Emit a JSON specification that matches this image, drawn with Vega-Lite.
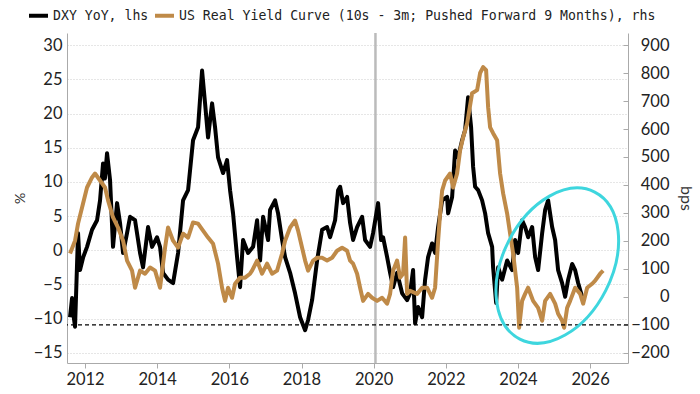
{
  "$schema": "https://vega.github.io/schema/vega-lite/v6.json",
  "autosize": {"type": "none"},
  "width": 561,
  "height": 330,
  "padding": {"left": 67, "top": 33, "right": 72, "bottom": 31},
  "background": "white",
  "config": {
    "view": {"stroke": null},
    "axis": {
      "labelFont": "Lato",
      "labelFontSize": 16.5,
      "labelColor": "#222222",
      "labelOverlap": false,
      "titleFont": "Lato",
      "titleFontWeight": "normal",
      "titleColor": "#333333",
      "domainColor": "#aaaaaa",
      "tickColor": "#aaaaaa"
    },
    "legend": {
      "labelFont": "DejaVu Sans Mono",
      "labelFontSize": 13.2,
      "labelColor": "#222222",
      "labelLimit": 0
    }
  },
  "datasets": {
    "dxy": [
      {"t":2011.584,"v":-9.8},{"t":2011.64,"v":-7.0},{"t":2011.68,"v":-9.5},{"t":2011.723,"v":-11.2},{"t":2011.806,"v":2.5},{"t":2011.861,"v":-2.9},{"t":2011.95,"v":-1.0},{"t":2012.055,"v":0.5},{"t":2012.194,"v":3.0},{"t":2012.333,"v":4.4},{"t":2012.416,"v":7.3},{"t":2012.499,"v":12.7},{"t":2012.55,"v":10.5},{"t":2012.61,"v":14.2},{"t":2012.693,"v":10.3},{"t":2012.776,"v":0.5},{"t":2012.887,"v":6.9},{"t":2012.97,"v":4.0},{"t":2013.054,"v":-0.4},{"t":2013.164,"v":2.5},{"t":2013.248,"v":4.9},{"t":2013.386,"v":4.4},{"t":2013.525,"v":-0.4},{"t":2013.608,"v":-2.5},{"t":2013.747,"v":3.4},{"t":2013.857,"v":0.5},{"t":2013.996,"v":1.9},{"t":2014.079,"v":0.5},{"t":2014.162,"v":-3.3},{"t":2014.301,"v":-4.3},{"t":2014.44,"v":-4.8},{"t":2014.579,"v":-0.4},{"t":2014.717,"v":7.3},{"t":2014.856,"v":8.8},{"t":2014.994,"v":16.1},{"t":2015.133,"v":18.0},{"t":2015.244,"v":26.3},{"t":2015.327,"v":21.5},{"t":2015.41,"v":16.5},{"t":2015.521,"v":21.5},{"t":2015.604,"v":18.0},{"t":2015.687,"v":13.6},{"t":2015.826,"v":11.3},{"t":2015.937,"v":13.2},{"t":2016.02,"v":8.8},{"t":2016.103,"v":5.4},{"t":2016.214,"v":-1.0},{"t":2016.297,"v":-5.4},{"t":2016.38,"v":1.5},{"t":2016.519,"v":-0.4},{"t":2016.658,"v":0.5},{"t":2016.769,"v":4.4},{"t":2016.852,"v":-1.5},{"t":2016.935,"v":4.9},{"t":2017.074,"v":1.5},{"t":2017.129,"v":5.9},{"t":2017.268,"v":7.3},{"t":2017.351,"v":5.4},{"t":2017.462,"v":1.5},{"t":2017.545,"v":-1.0},{"t":2017.684,"v":-3.3},{"t":2017.822,"v":-6.3},{"t":2017.961,"v":-9.8},{"t":2018.1,"v":-11.7},{"t":2018.183,"v":-10.2},{"t":2018.293,"v":-7.3},{"t":2018.432,"v":-1.5},{"t":2018.571,"v":3.0},{"t":2018.709,"v":3.4},{"t":2018.792,"v":1.9},{"t":2018.931,"v":4.4},{"t":2019.014,"v":8.8},{"t":2019.07,"v":9.3},{"t":2019.153,"v":6.9},{"t":2019.264,"v":7.8},{"t":2019.347,"v":4.0},{"t":2019.43,"v":1.5},{"t":2019.541,"v":3.4},{"t":2019.68,"v":4.9},{"t":2019.763,"v":1.5},{"t":2019.901,"v":0.5},{"t":2019.984,"v":2.5},{"t":2020.123,"v":6.9},{"t":2020.206,"v":1.5},{"t":2020.262,"v":1.9},{"t":2020.373,"v":-1.0},{"t":2020.456,"v":-3.3},{"t":2020.539,"v":-5.4},{"t":2020.65,"v":-3.3},{"t":2020.789,"v":-6.3},{"t":2020.927,"v":-7.3},{"t":2021.01,"v":-6.3},{"t":2021.093,"v":-2.9},{"t":2021.149,"v":-10.7},{"t":2021.232,"v":-8.3},{"t":2021.343,"v":-9.8},{"t":2021.426,"v":-4.3},{"t":2021.509,"v":-1.0},{"t":2021.62,"v":1.0},{"t":2021.703,"v":-0.4},{"t":2021.787,"v":3.4},{"t":2021.898,"v":7.3},{"t":2022.036,"v":7.8},{"t":2022.064,"v":5.4},{"t":2022.175,"v":7.8},{"t":2022.258,"v":14.6},{"t":2022.341,"v":13.6},{"t":2022.452,"v":16.1},{"t":2022.535,"v":17.6},{"t":2022.618,"v":22.4},{"t":2022.701,"v":18.0},{"t":2022.757,"v":12.2},{"t":2022.812,"v":9.3},{"t":2022.896,"v":8.8},{"t":2023.006,"v":7.3},{"t":2023.09,"v":5.4},{"t":2023.173,"v":2.5},{"t":2023.284,"v":0.5},{"t":2023.311,"v":-2.5},{"t":2023.395,"v":-7.7},{"t":2023.45,"v":-2.5},{"t":2023.561,"v":-4.3},{"t":2023.7,"v":-1.5},{"t":2023.838,"v":-2.9},{"t":2023.921,"v":1.5},{"t":2024.004,"v":-0.4},{"t":2024.115,"v":4.4},{"t":2024.198,"v":3.4},{"t":2024.282,"v":1.9},{"t":2024.393,"v":3.4},{"t":2024.476,"v":-1.0},{"t":2024.559,"v":-2.9},{"t":2024.67,"v":2.5},{"t":2024.753,"v":5.9},{"t":2024.836,"v":7.3},{"t":2024.947,"v":3.4},{"t":2025.03,"v":1.5},{"t":2025.113,"v":-2.9},{"t":2025.224,"v":-4.8},{"t":2025.308,"v":-6.8},{"t":2025.391,"v":-4.3},{"t":2025.502,"v":-2.0},{"t":2025.585,"v":-2.9},{"t":2025.668,"v":-4.8},{"t":2025.779,"v":-6.8}
    ],
    "ryc": [
      {"t":2011.584,"v":155},{"t":2011.723,"v":201},{"t":2011.806,"v":262},{"t":2011.945,"v":334},{"t":2012.055,"v":391},{"t":2012.194,"v":427},{"t":2012.277,"v":441},{"t":2012.416,"v":416},{"t":2012.554,"v":391},{"t":2012.638,"v":345},{"t":2012.776,"v":284},{"t":2012.915,"v":248},{"t":2013.054,"v":201},{"t":2013.164,"v":130},{"t":2013.303,"v":94},{"t":2013.386,"v":33},{"t":2013.525,"v":94},{"t":2013.663,"v":83},{"t":2013.802,"v":105},{"t":2013.941,"v":94},{"t":2014.079,"v":33},{"t":2014.218,"v":176},{"t":2014.301,"v":248},{"t":2014.44,"v":201},{"t":2014.579,"v":176},{"t":2014.717,"v":226},{"t":2014.856,"v":212},{"t":2014.994,"v":266},{"t":2015.133,"v":262},{"t":2015.271,"v":237},{"t":2015.41,"v":212},{"t":2015.549,"v":190},{"t":2015.687,"v":119},{"t":2015.798,"v":33},{"t":2015.881,"v":-14},{"t":2015.964,"v":33},{"t":2016.075,"v":-3},{"t":2016.159,"v":47},{"t":2016.297,"v":69},{"t":2016.436,"v":69},{"t":2016.574,"v":83},{"t":2016.63,"v":94},{"t":2016.769,"v":130},{"t":2016.907,"v":83},{"t":2017.046,"v":119},{"t":2017.184,"v":83},{"t":2017.323,"v":94},{"t":2017.462,"v":155},{"t":2017.545,"v":201},{"t":2017.684,"v":248},{"t":2017.822,"v":273},{"t":2017.905,"v":237},{"t":2018.016,"v":176},{"t":2018.1,"v":130},{"t":2018.183,"v":94},{"t":2018.321,"v":130},{"t":2018.432,"v":140},{"t":2018.571,"v":140},{"t":2018.709,"v":130},{"t":2018.848,"v":140},{"t":2018.986,"v":165},{"t":2019.125,"v":176},{"t":2019.264,"v":165},{"t":2019.347,"v":130},{"t":2019.43,"v":119},{"t":2019.541,"v":83},{"t":2019.624,"v":33},{"t":2019.707,"v":-14},{"t":2019.846,"v":11},{"t":2019.957,"v":-3},{"t":2020.095,"v":-14},{"t":2020.234,"v":-3},{"t":2020.373,"v":-24},{"t":2020.456,"v":11},{"t":2020.539,"v":94},{"t":2020.65,"v":130},{"t":2020.733,"v":69},{"t":2020.816,"v":83},{"t":2020.872,"v":212},{"t":2020.927,"v":11},{"t":2021.01,"v":22},{"t":2021.204,"v":11},{"t":2021.343,"v":33},{"t":2021.482,"v":33},{"t":2021.62,"v":-3},{"t":2021.703,"v":33},{"t":2021.787,"v":201},{"t":2021.842,"v":298},{"t":2021.898,"v":380},{"t":2021.981,"v":416},{"t":2022.119,"v":441},{"t":2022.203,"v":391},{"t":2022.313,"v":441},{"t":2022.397,"v":524},{"t":2022.48,"v":570},{"t":2022.591,"v":620},{"t":2022.729,"v":728},{"t":2022.868,"v":739},{"t":2022.951,"v":800},{"t":2023.034,"v":821},{"t":2023.117,"v":810},{"t":2023.173,"v":678},{"t":2023.228,"v":606},{"t":2023.311,"v":585},{"t":2023.422,"v":560},{"t":2023.505,"v":441},{"t":2023.589,"v":370},{"t":2023.7,"v":298},{"t":2023.783,"v":226},{"t":2023.866,"v":155},{"t":2023.977,"v":33},{"t":2024.032,"v":-110},{"t":2024.115,"v":-14},{"t":2024.198,"v":11},{"t":2024.282,"v":33},{"t":2024.42,"v":-14},{"t":2024.559,"v":-39},{"t":2024.67,"v":-85},{"t":2024.753,"v":-14},{"t":2024.892,"v":11},{"t":2025.03,"v":-24},{"t":2025.113,"v":-60},{"t":2025.224,"v":-85},{"t":2025.28,"v":-110},{"t":2025.363,"v":-39},{"t":2025.446,"v":-14},{"t":2025.585,"v":33},{"t":2025.724,"v":11},{"t":2025.807,"v":-24},{"t":2025.918,"v":33},{"t":2026.056,"v":47},{"t":2026.139,"v":58},{"t":2026.278,"v":83},{"t":2026.361,"v":94}
    ],
    "annot": [
      {"t":2020.05,"v":-100,"ct":2025.09,"cv":112}
    ]
  },
  "layer": [
    {
      "layer": [
        {
          "data": {"name": "annot"},
          "mark": {"type": "rule", "color": "#bbbbbb", "strokeWidth": 2.5},
          "encoding": {
            "x": {"field": "t", "type": "quantitative", "scale": {"domain": [2011.5, 2027.05], "nice": false, "zero": false},
              "axis": {"title": null, "values": [2012, 2014, 2016, 2018, 2020, 2022, 2024, 2026], "format": "d", "grid": false, "tickSize": 5, "labelPadding": 3}}
          }
        },
        {
          "data": {"name": "dxy"},
          "mark": {"type": "line", "strokeWidth": 4, "strokeJoin": "round"},
          "encoding": {
            "x": {"field": "t", "type": "quantitative", "scale": {"domain": [2011.5, 2027.05], "nice": false, "zero": false},
              "axis": {"title": null, "values": [2012, 2014, 2016, 2018, 2020, 2022, 2024, 2026], "format": "d", "grid": false, "tickSize": 5, "labelPadding": 3}},
            "y": {"field": "v", "type": "quantitative", "scale": {"domain": [-16.5, 31.8], "nice": false, "zero": false},
              "axis": {"orient": "left", "title": "%", "titleFontSize": 14, "titlePadding": 6, "values": [-15, -10, -5, 0, 5, 10, 15, 20, 25, 30], "ticks": false, "labelPadding": 5, "labelOverlap": false, "grid": true, "gridColor": "#cccccc", "gridDash": [1, 2]}},
            "color": {"datum": "DXY YoY, lhs", "type": "nominal",
              "scale": {"domain": ["DXY YoY, lhs", "US Real Yield Curve (10s - 3m; Pushed Forward 9 Months), rhs"], "range": ["#000000", "#BF8A48"]},
              "legend": {"title": null, "orient": "none", "legendX": -40, "legendY": -29, "direction": "horizontal", "symbolType": "stroke", "symbolSize": 361, "symbolStrokeWidth": 4, "labelOffset": 3, "columnPadding": -2, "padding": 0}}
          }
        }
      ]
    },
    {
      "layer": [
        {
          "data": {"name": "ryc"},
          "mark": {"type": "line", "strokeWidth": 4, "strokeJoin": "round"},
          "encoding": {
            "x": {"field": "t", "type": "quantitative",
              "axis": {"title": null, "values": [2012, 2014, 2016, 2018, 2020, 2022, 2024, 2026], "format": "d", "grid": false, "tickSize": 5, "labelPadding": 3}},
            "y": {"field": "v", "type": "quantitative", "scale": {"domain": [-236, 943], "nice": false, "zero": false},
              "axis": {"orient": "right", "title": "bps", "titleFontSize": 16, "titleAngle": 90, "titlePadding": 8, "values": [-200, -100, 0, 100, 200, 300, 400, 500, 600, 700, 800, 900], "grid": false, "tickSize": -5, "labelAlign": "right", "labelPadding": 46, "labelOverlap": false}},
            "color": {"datum": "US Real Yield Curve (10s - 3m; Pushed Forward 9 Months), rhs", "type": "nominal",
              "legend": {"title": null, "orient": "none", "legendX": -40, "legendY": -29, "direction": "horizontal", "symbolType": "stroke", "symbolSize": 361, "symbolStrokeWidth": 4, "labelOffset": 3, "columnPadding": -2, "padding": 0}}
          }
        },
        {
          "data": {"name": "annot"},
          "mark": {"type": "rule", "color": "#000000", "strokeWidth": 1.3, "strokeDash": [4, 3]},
          "encoding": {
            "y": {"field": "v", "type": "quantitative",
              "axis": {"orient": "right", "title": "bps", "titleFontSize": 16, "titleAngle": 90, "titlePadding": 8, "values": [-200, -100, 0, 100, 200, 300, 400, 500, 600, 700, 800, 900], "grid": false, "tickSize": -5, "labelAlign": "right", "labelPadding": 46, "labelOverlap": false}}
          }
        },
        {
          "data": {"name": "annot"},
          "mark": {"type": "point", "filled": false, "stroke": "#3ED6DE", "strokeWidth": 3, "opacity": 1, "angle": 27, "size": 27225,
            "shape": "M 0.66,0 C 0.66,0.5523 0.3645,1 0,1 C -0.3645,1 -0.66,0.5523 -0.66,0 C -0.66,-0.5523 -0.3645,-1 0,-1 C 0.3645,-1 0.66,-0.5523 0.66,0 Z"},
          "encoding": {
            "x": {"field": "ct", "type": "quantitative",
              "axis": {"title": null, "values": [2012, 2014, 2016, 2018, 2020, 2022, 2024, 2026], "format": "d", "grid": false, "tickSize": 5, "labelPadding": 3}},
            "y": {"field": "cv", "type": "quantitative",
              "axis": {"orient": "right", "title": "bps", "titleFontSize": 16, "titleAngle": 90, "titlePadding": 8, "values": [-200, -100, 0, 100, 200, 300, 400, 500, 600, 700, 800, 900], "grid": false, "tickSize": -5, "labelAlign": "right", "labelPadding": 46, "labelOverlap": false}}
          }
        }
      ]
    }
  ],
  "resolve": {"scale": {"y": "independent"}}
}
